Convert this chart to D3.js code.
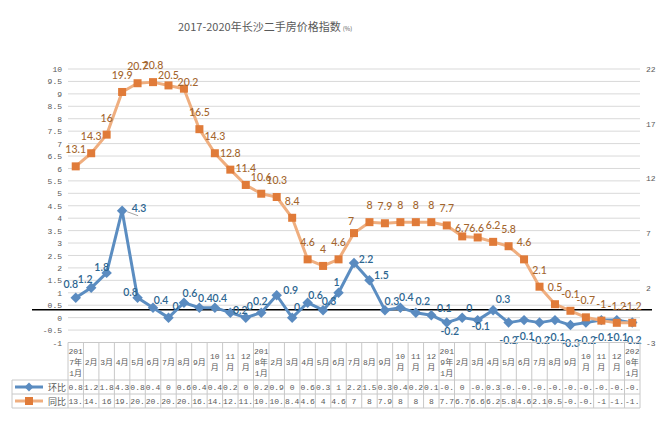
<!DOCTYPE html>
<html><head><meta charset="utf-8">
<script src="https://cdn.jsdelivr.net/npm/d3@7"></script>
<style>
html,body{margin:0;padding:0;background:#fff;}
svg{display:block;}
</style></head>
<body>
<svg id="chart" width="669" height="436"></svg>
<script>
const categories = ["2017年1月","2月","3月","4月","5月","6月","7月","8月","9月","10月","11月","12月",
  "2018年1月","2月 ","3月 ","4月 ","5月 ","6月 ","7月 ","8月 ","9月 ","10月 ","11月 ","12月 ",
  "2019年1月","2月  ","3月  ","4月  ","5月  ","6月  ","7月  ","8月  ","9月  ","10月  ","11月  ","12月  ",
  "2020年1月"];
const seriesNames = ["环比","同比"];
const huanbi = [0.8,1.2,1.8,4.3,0.8,0.4,0,0.6,0.4,0.4,0.2,0,0.2,0.9,0,0.6,0.3,1,2.2,1.5,0.3,0.4,0.2,0.1,-0.2,0,-0.1,0.3,-0.2,-0.1,-0.2,-0.1,-0.3,-0.2,-0.1,-0.1,-0.2];
const tongbi = [13.1,14.3,16,19.9,20.7,20.8,20.5,20.2,16.5,14.3,12.8,11.4,10.6,10.3,8.4,4.6,4,4.6,7,8,7.9,8,8,8,7.7,6.7,6.6,6.2,5.8,4.6,2.1,0.5,-0.1,-0.7,-1,-1.2,-1.2];
const leftTicks = [-1,-0.5,0,0.5,1,1.5,2,2.5,3,3.5,4,4.5,5,5.5,6,6.5,7,7.5,8,8.5,9,9.5,10];
const rightTicks = [-3,2,7,12,17,22];
const titleText = "2017-2020年长沙二手房价格指数";
const unitText = "(%)";

// label placement offsets (layout, not data)
const blueLabelOffsets = [[-5,-14],[-6,-9],[-5,-6],[17,-3],[-7,-6],[8,-8],[7,-12],[6,-10],[6,-10],[5,-10],[10,-3],[4,-12],
  [-1,-12],[14,-5],[5,-11],[8,-8],[6,-9],[-2,-11],[12,-4],[12,-5],[7,-9],[6,-11],[7,-12],[13,-7],
  [3,8],[7,-10],[3,6],[10,-11],[0,17],[1,16],[1,17],[1,17],[0,18],[1,17],[2,17],[2,17],[0,17]];
const orangeLabelOverrides = {6:[0,-10],7:[4,-7],18:[-3,-12],25:[0,-8],26:[-1,-9]};

const svg = d3.select("#chart");
const plotL = 68, plotR = 640, plotT = 69, plotB = 342.5;

const x = d3.scaleBand().domain(d3.range(categories.length)).range([plotL, plotR]);
const cx = i => x(i) + x.bandwidth()/2;
const yL = d3.scaleLinear().domain([-1,10]).range([plotB, plotT]);
const yR = d3.scaleLinear().domain([-3,22]).range([plotB, plotT]);

// title
const title = svg.append("text").attr("x", 178).attr("y", 31)
  .attr("font-family","'Noto Sans CJK SC', sans-serif").attr("font-size", 11).attr("fill","#595959");
title.append("tspan").text(titleText);
title.append("tspan").attr("font-size", 6).attr("dx", 2).text(unitText);

// gridlines
svg.append("g").selectAll("line").data(leftTicks).join("line")
  .attr("x1", plotL).attr("x2", plotR)
  .attr("y1", d => yL(d)).attr("y2", d => yL(d))
  .attr("stroke", "#D9D9D9").attr("stroke-width", 1);

// left axis
const gL = svg.append("g").attr("transform", `translate(${plotL},0)`)
  .call(d3.axisLeft(yL).tickValues(leftTicks).tickSize(0).tickPadding(6).tickFormat(d => String(d)));
gL.select(".domain").remove();
gL.selectAll("text").attr("font-family","'Liberation Mono', monospace").attr("font-size", 8).attr("fill","#595959");

// right axis
const gR = svg.append("g").attr("transform", `translate(${plotR},0)`)
  .call(d3.axisRight(yR).tickValues(rightTicks).tickSize(0).tickPadding(6).tickFormat(d => String(d)));
gR.select(".domain").remove();
gR.selectAll("text").attr("font-family","'Liberation Mono', monospace").attr("font-size", 8).attr("fill","#595959");

// black zero line of secondary axis
svg.append("line").attr("x1", 32).attr("x2", 652)
  .attr("y1", yR(0)).attr("y2", yR(0)).attr("stroke", "#000").attr("stroke-width", 1.5);

const blueLine = "#5B8DC1", blueMarker = "#5A8BC0", blueText = "#2C6590";
const orangeLine = "#EFAE7F", orangeMarker = "#E07B39", orangeText = "#A3652D";

// blue series
svg.append("path").datum(huanbi)
  .attr("d", d3.line().x((d,i) => cx(i)).y(d => yL(d)))
  .attr("fill","none").attr("stroke", blueLine).attr("stroke-width", 3).attr("stroke-linejoin","round");
svg.append("g").selectAll("path").data(huanbi).join("path")
  .attr("d", d3.symbol(d3.symbolDiamond2, 70))
  .attr("transform", (d,i) => `translate(${cx(i)},${yL(d)})`)
  .attr("fill", blueMarker);

// orange series
svg.append("path").datum(tongbi)
  .attr("d", d3.line().x((d,i) => cx(i)).y(d => yR(d)))
  .attr("fill","none").attr("stroke", orangeLine).attr("stroke-width", 3).attr("stroke-linejoin","round");
svg.append("g").selectAll("rect").data(tongbi).join("rect")
  .attr("x", (d,i) => cx(i) - 4).attr("y", d => yR(d) - 4)
  .attr("width", 8).attr("height", 8).attr("fill", orangeMarker);

// leader line for the 4.3 label
const peakIdx = huanbi.indexOf(d3.max(huanbi));
svg.append("line").attr("x1", cx(peakIdx) + 5).attr("y1", yL(huanbi[peakIdx]) + 1)
  .attr("x2", cx(peakIdx) + 16).attr("y2", yL(huanbi[peakIdx]) + 5)
  .attr("stroke", "#8c8c8c").attr("stroke-width", 0.8);

// labels
svg.append("g").selectAll("text").data(huanbi).join("text")
  .attr("x", (d,i) => cx(i) + blueLabelOffsets[i][0])
  .attr("y", (d,i) => yL(d) + blueLabelOffsets[i][1])
  .attr("text-anchor","middle").attr("dominant-baseline","central")
  .attr("font-family","Lato, 'Liberation Sans', sans-serif").attr("font-size", 10.5).attr("font-weight", 600)
  .attr("fill", blueText).text(d => String(d));
svg.append("g").selectAll("text").data(tongbi).join("text")
  .attr("x", (d,i) => cx(i) + (orangeLabelOverrides[i] ? orangeLabelOverrides[i][0] : 0))
  .attr("y", (d,i) => yR(d) + (orangeLabelOverrides[i] ? orangeLabelOverrides[i][1] : -17))
  .attr("text-anchor","middle").attr("dominant-baseline","central")
  .attr("font-family","Lato, 'Liberation Sans', sans-serif").attr("font-size", 10.5).attr("font-weight", 500)
  .attr("fill", orangeText).text(d => String(d));

// data table
const tbl = svg.append("g");
const gridC = "#C8C8C8";
const headB = 380, row1B = 394, row2B = 408, legL = 12;
const cw = x.bandwidth();
const tFont = "'Liberation Mono', 'Noto Sans CJK SC', monospace";

// horizontal lines
[[plotL, plotB],[legL, headB],[legL, row1B],[legL, row2B]].forEach(([x0,y0]) => {
  tbl.append("line").attr("x1", x0).attr("x2", plotR).attr("y1", y0).attr("y2", y0)
    .attr("stroke", gridC).attr("stroke-width", 1);
});
// vertical lines
d3.range(categories.length + 1).forEach(i => {
  const xv = plotL + i * cw;
  tbl.append("line").attr("x1", xv).attr("x2", xv).attr("y1", plotB).attr("y2", row2B)
    .attr("stroke", gridC).attr("stroke-width", 1);
});
tbl.append("line").attr("x1", legL).attr("x2", legL).attr("y1", headB).attr("y2", row2B)
  .attr("stroke", gridC).attr("stroke-width", 1);

// measuring helper
const meas = svg.append("text").attr("font-family", tFont).attr("font-size", 8).attr("visibility","hidden");
const w = s => { meas.text(s); return meas.node().getComputedTextLength(); };

// header category text (wrapped by characters)
categories.forEach((c, i) => {
  const chars = Array.from(c.trim());
  const lines = [];
  let cur = "";
  chars.forEach(ch => {
    if (cur && w(cur + ch) > cw) { lines.push(cur); cur = ch; } else cur += ch;
  });
  if (cur) lines.push(cur);
  const lh = 11, mid = (plotB + headB) / 2 + 0.5;
  const t = tbl.append("text").attr("font-family", tFont).attr("font-size", 8).attr("fill", "#595959")
    .attr("text-anchor","middle").attr("dominant-baseline","central");
  lines.forEach((ln, k) => {
    t.append("tspan").attr("x", cx(i)).attr("y", mid + (k - (lines.length - 1) / 2) * lh).text(ln);
  });
});

// value rows (clipped like the spreadsheet cells)
const fit = s => { let t = s; while (t.length > 1 && w(t) > cw) t = t.slice(0, -1); return t; };
[[huanbi, (headB + row1B) / 2], [tongbi, (row1B + row2B) / 2]].forEach(([arr, yy]) => {
  tbl.append("g").selectAll("text").data(arr).join("text")
    .attr("x", (d,i) => cx(i)).attr("y", yy + 0.5)
    .attr("text-anchor","middle").attr("dominant-baseline","central")
    .attr("font-family", tFont).attr("font-size", 8).attr("fill", "#595959")
    .text(d => fit(String(d)));
});

// legend keys in the table
[[(headB + row1B) / 2, blueLine, blueMarker, "diamond", seriesNames[0]],
 [(row1B + row2B) / 2, orangeLine, orangeMarker, "square", seriesNames[1]]].forEach(([yy, lc, mc, shape, name]) => {
  tbl.append("line").attr("x1", 15).attr("x2", 43).attr("y1", yy).attr("y2", yy)
    .attr("stroke", lc).attr("stroke-width", 3);
  if (shape === "diamond") {
    tbl.append("path").attr("d", d3.symbol(d3.symbolDiamond2, 50)).attr("transform", `translate(29,${yy})`).attr("fill", mc);
  } else {
    tbl.append("rect").attr("x", 25).attr("y", yy - 4).attr("width", 8).attr("height", 8).attr("fill", mc);
  }
  tbl.append("text").attr("x", 48).attr("y", yy + 0.5).attr("dominant-baseline","central")
    .attr("font-family","'Noto Sans CJK SC', sans-serif").attr("font-size", 9).attr("fill", "#595959").text(name);
});
meas.remove();
</script>
</body></html>
